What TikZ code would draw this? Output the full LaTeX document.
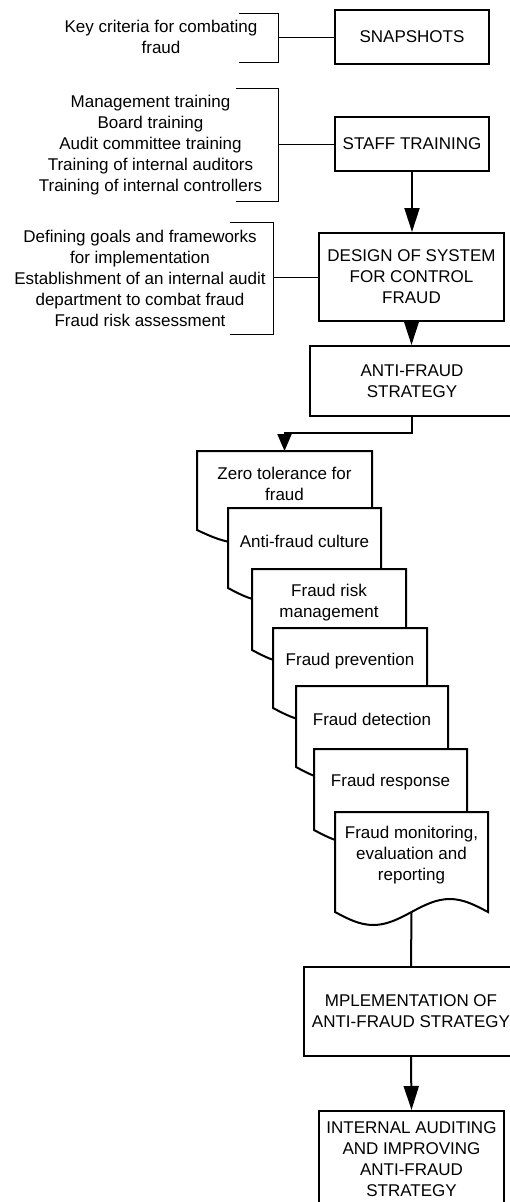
\documentclass[tikz,border=0pt]{standalone}
\usepackage{fontspec}
\setmainfont{Liberation Sans}
\usetikzlibrary{arrows.meta,calc,backgrounds}

\tikzset{
  every node/.style={font=\fontsize{17}{21}\selectfont},
  box/.style={draw, line width=2pt, rectangle, align=center, inner sep=0pt, fill=white},
  note/.style={align=center, inner sep=0pt},
  docnode/.style={rectangle, align=center, inner sep=0pt, outer sep=0pt},
  docline/.style={draw, line width=2pt, fill=white, line join=miter},
  thinline/.style={line width=1pt},
  flow/.style={line width=2pt},
  bigtip/.style={-{Triangle[length=24pt,width=15pt]}},
  smalltip/.style={-{Triangle[length=17pt,width=14pt]}},
}

% outline of a "document" symbol around a text node: flat top, wavy bottom
\newcommand\docoutline[1]{%
  \path[docline] let \p1=(#1.north west), \p2=(#1.south east) in
    (\p1) -- (\x2,\y1) -- (\x2,{\y2-14pt})
    sin ({\x2-0.25*(\x2-\x1)},{\y2-1pt})
    cos ({\x2-0.5*(\x2-\x1)},{\y2-14pt})
    sin ({\x1+0.25*(\x2-\x1)},{\y2-27pt})
    cos (\x1,{\y2-14pt}) -- cycle;}

\begin{document}
\begin{tikzpicture}[x=1pt,y=-1pt]
\useasboundingbox (0,0) rectangle (509,1202);

% main column of boxes
\node[box, minimum width=154pt, minimum height=54pt] (snap)   at (412,37)    {SNAPSHOTS};
\node[box, minimum width=154pt, minimum height=54pt] (staff)  at (412,144)   {STAFF TRAINING};
\node[box, minimum width=185pt, minimum height=88pt] (design) at (411.5,277) {DESIGN OF SYSTEM\\FOR CONTROL\\FRAUD};
\node[box, minimum width=204pt, minimum height=70pt] (af)     at (412,381)   {ANTI-FRAUD\\STRATEGY};
\node[box, minimum width=214pt, minimum height=89pt] (impl)   at (411,1011.5) {MPLEMENTATION OF\\ANTI-FRAUD STRATEGY};
\node[box, minimum width=185pt, minimum height=96pt] (ia)     at (411.5,1159) {INTERNAL AUDITING\\AND IMPROVING\\ANTI-FRAUD\\STRATEGY};

% side notes with their brackets
\node[note] (n1) at (161,37)    {Key criteria for combating\\fraud};
\node[note] (n2) at (150.5,145) {Management training\\Board training\\Audit committee training\\Training of internal auditors\\Training of internal controllers};
\node[note] (n3) at (140,278)   {Defining goals and frameworks\\for implementation\\Establishment of an internal audit\\department to combat fraud\\Fraud risk assessment};

\draw[thinline] (239,13) -| (278,62) -- (239,62);
\draw[thinline] (236,88) -| (278,201) -- (236,201);
\draw[thinline] (230,222) -| (273,334) -- (230,334);
\coordinate (b1) at (278,37);
\coordinate (b2) at (278,144);
\coordinate (b3) at (273,277);
\draw[thinline] (b1) -- (snap.west);
\draw[thinline] (b2) -- (staff.west);
\draw[thinline] (b3) -- (design.west);

% stacked strategy elements
\node[docnode, minimum width=175pt, minimum height=65pt] (z1) at (284.5,483.5) {Zero tolerance for\\fraud};
\node[docnode, minimum width=153pt, minimum height=66pt] (z2) at (304.5,541)   {Anti-fraud culture};
\node[docnode, minimum width=154pt, minimum height=67pt] (z3) at (329,602.5)   {Fraud risk\\management};
\node[docnode, minimum width=154pt, minimum height=66pt] (z4) at (350,661)     {Fraud prevention};
\node[docnode, minimum width=152pt, minimum height=67pt] (z5) at (372,719.5)   {Fraud detection};
\node[docnode, minimum width=153pt, minimum height=67pt] (z6) at (390.5,782.5) {Fraud response};
\node[docnode, minimum width=153pt, minimum height=86pt] (z7) at (411.5,855)   {Fraud monitoring,\\evaluation and\\reporting};

\begin{scope}[on background layer]
  \docoutline{z1}
  \docoutline{z2}
  \docoutline{z3}
  \docoutline{z4}
  \docoutline{z5}
  \docoutline{z6}
  \docoutline{z7}
\end{scope}

% connectors
\draw[flow, bigtip] (staff.south) -- (staff.south |- design.north);
\draw[flow, bigtip] (design.south) -- (design.south |- af.north);
\draw[flow, smalltip] (af.south) -- ++(0,16) -| (z1.north);
\draw[flow] ($(z7.south)+(0,14)$) -- (impl.north);
\draw[flow, bigtip] (impl.south) -- (ia.north);
\end{tikzpicture}
\end{document}
